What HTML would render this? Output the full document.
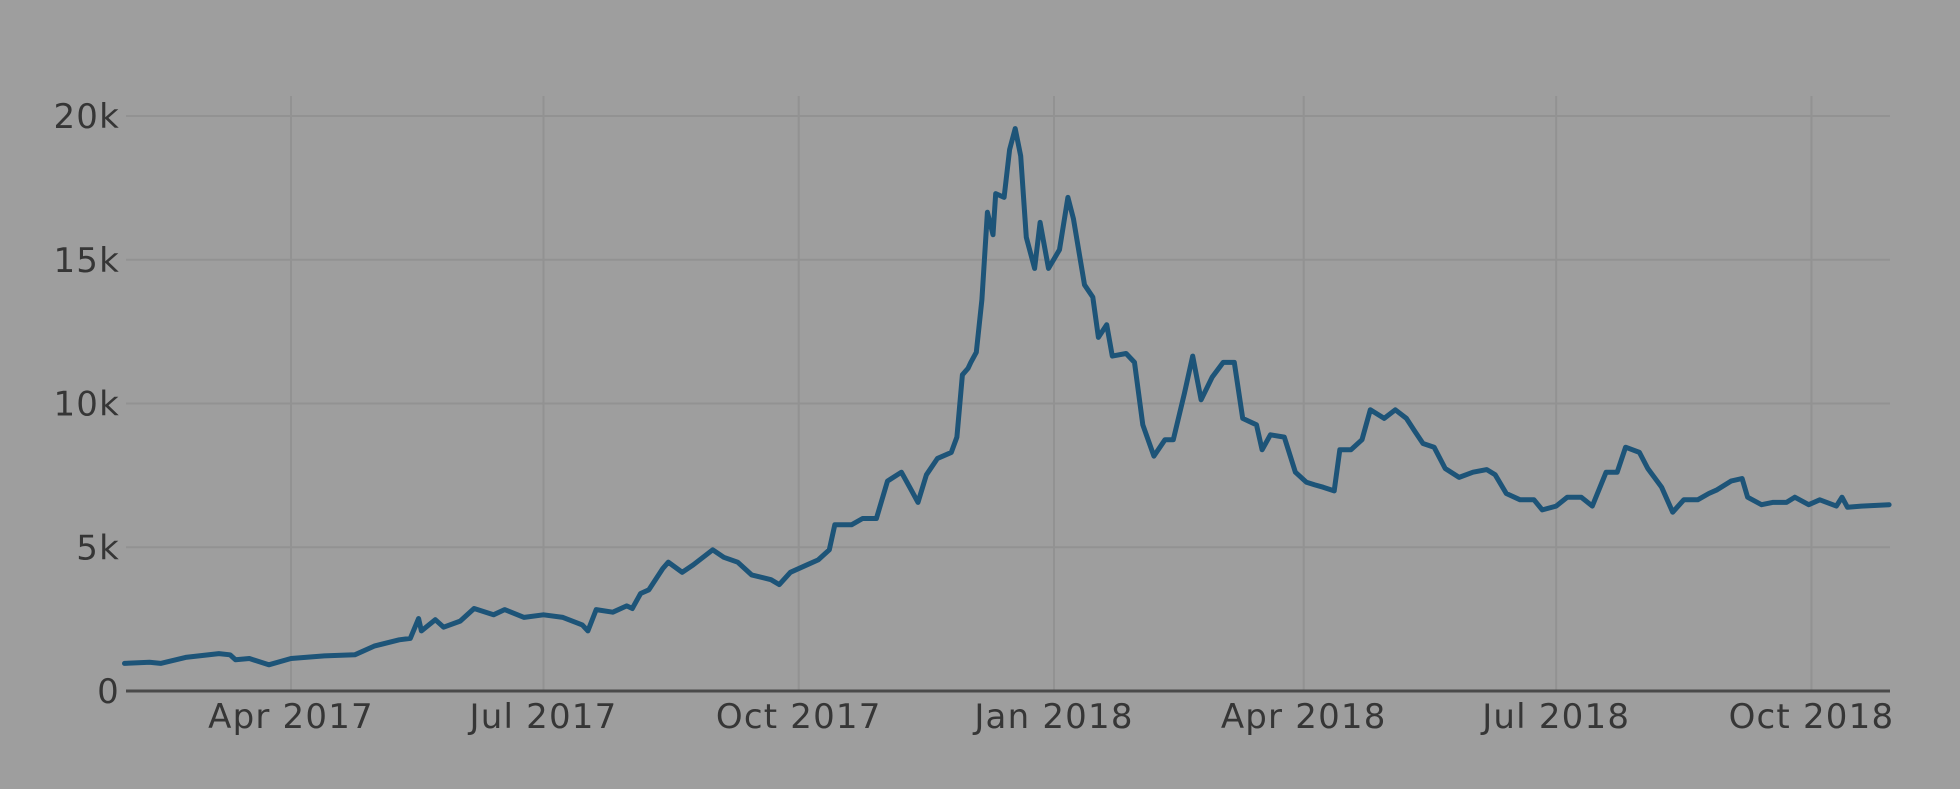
<!DOCTYPE html>
<html><head><meta charset="utf-8">
<style>
html,body{margin:0;padding:0;background:#9e9e9e;}
svg{display:block;}
text{font-family:"DejaVu Sans","Liberation Sans",sans-serif;fill:#363636;font-size:34px;letter-spacing:1.2px;}
</style></head>
<body>
<svg id="chart" width="1960" height="789" viewBox="0 0 1960 789" xmlns="http://www.w3.org/2000/svg">
<rect width="1960" height="789" fill="#9e9e9e"/>
<g id="grid"></g><g id="axes"></g><g id="series"></g>
</svg>
<script>
const dates = ["2017-01-31","2017-02-09","2017-02-13","2017-02-22","2017-03-06","2017-03-10","2017-03-12","2017-03-17","2017-03-24","2017-04-01","2017-04-13","2017-04-24","2017-05-01","2017-05-10","2017-05-14","2017-05-17","2017-05-18","2017-05-23","2017-05-26","2017-06-01","2017-06-06","2017-06-13","2017-06-17","2017-06-24","2017-07-01","2017-07-08","2017-07-15","2017-07-17","2017-07-20","2017-07-26","2017-07-31","2017-08-02","2017-08-05","2017-08-08","2017-08-13","2017-08-15","2017-08-20","2017-08-24","2017-08-31","2017-09-04","2017-09-09","2017-09-14","2017-09-21","2017-09-24","2017-09-28","2017-10-04","2017-10-08","2017-10-12","2017-10-14","2017-10-20","2017-10-24","2017-10-29","2017-11-02","2017-11-07","2017-11-10","2017-11-13","2017-11-16","2017-11-20","2017-11-25","2017-11-27","2017-11-29","2017-12-01","2017-12-02","2017-12-04","2017-12-06","2017-12-08","2017-12-10","2017-12-11","2017-12-14","2017-12-16","2017-12-18","2017-12-20","2017-12-22","2017-12-25","2017-12-27","2017-12-30","2018-01-03","2018-01-06","2018-01-08","2018-01-12","2018-01-15","2018-01-17","2018-01-20","2018-01-22","2018-01-27","2018-01-30","2018-02-02","2018-02-06","2018-02-10","2018-02-13","2018-02-17","2018-02-20","2018-02-23","2018-02-27","2018-03-03","2018-03-07","2018-03-10","2018-03-15","2018-03-17","2018-03-20","2018-03-25","2018-03-29","2018-04-02","2018-04-05","2018-04-08","2018-04-12","2018-04-14","2018-04-18","2018-04-22","2018-04-25","2018-04-30","2018-05-04","2018-05-08","2018-05-11","2018-05-14","2018-05-18","2018-05-22","2018-05-27","2018-06-01","2018-06-06","2018-06-09","2018-06-13","2018-06-18","2018-06-23","2018-06-26","2018-07-01","2018-07-05","2018-07-10","2018-07-14","2018-07-19","2018-07-23","2018-07-26","2018-07-31","2018-08-03","2018-08-08","2018-08-12","2018-08-16","2018-08-21","2018-08-25","2018-08-28","2018-09-02","2018-09-06","2018-09-08","2018-09-13","2018-09-17","2018-09-22","2018-09-25","2018-09-30","2018-10-04","2018-10-10","2018-10-12","2018-10-14","2018-10-19","2018-10-29"];
const prices = [960,1000,960,1170,1300,1260,1090,1130,910,1130,1220,1260,1560,1780,1830,2520,2090,2480,2220,2430,2870,2650,2830,2560,2650,2560,2300,2090,2830,2740,2960,2870,3390,3520,4260,4480,4130,4390,4910,4650,4480,4040,3870,3700,4130,4390,4560,4910,5780,5780,6000,6000,7300,7610,7090,6560,7520,8090,8300,8830,11000,11220,11430,11780,13610,16650,15870,17300,17170,18830,19560,18610,15780,14700,16300,14700,15350,17170,16430,14130,13700,12300,12740,11650,11740,11430,9260,8170,8740,8740,10350,11650,10130,10910,11430,11430,9480,9260,8390,8910,8830,7610,7260,7170,7090,6960,8390,8390,8740,9780,9480,9780,9480,9040,8610,8480,7740,7430,7610,7700,7520,6870,6650,6650,6300,6430,6740,6740,6430,7610,7610,8480,8300,7740,7090,6220,6650,6650,6870,7000,7300,7390,6740,6480,6560,6560,6740,6480,6650,6430,6740,6390,6430,6480];
const yTicks = [0,5000,10000,15000,20000];
const yTickLabels = ["0","5k","10k","15k","20k"];
const xTicks = ["2017-04-01","2017-07-01","2017-10-01","2018-01-01","2018-04-01","2018-07-01","2018-10-01"];
const xTickLabels = ["Apr 2017","Jul 2017","Oct 2017","Jan 2018","Apr 2018","Jul 2018","Oct 2018"];

const NS="http://www.w3.org/2000/svg";
const L=126,R=1890,T=116,B=691;
const d0=Date.parse("2017-04-01"), d1=Date.parse("2018-01-01");
const pxPerMs=(1054-291)/(d1-d0);
function xs(s){return 291+(Date.parse(s)-d0)*pxPerMs;}
function ys(v){return B-(v/20000)*(B-T);}
function mk(tag,attrs,parent){const e=document.createElementNS(NS,tag);for(const k in attrs)e.setAttribute(k,attrs[k]);parent.appendChild(e);return e;}
const grid=document.getElementById('grid'),axes=document.getElementById('axes'),series=document.getElementById('series');
yTicks.forEach((v,i)=>{
  if(v>0){const g=mk('line',{x1:L,x2:R,y1:ys(v),y2:ys(v),stroke:'#929292','stroke-width':2},grid);
  
  }
  const t=mk('text',{x:120,y:ys(v)+12,'text-anchor':'end'},axes);t.textContent=yTickLabels[i];
  
  
});
xTicks.forEach((s,i)=>{
  const x=xs(s);
  const g=mk('line',{x1:x,x2:x,y1:96,y2:B,stroke:'#929292','stroke-width':2},grid);
  
  
  const t=mk('text',{x:x,y:728,'text-anchor':'middle'},axes);t.textContent=xTickLabels[i];
  
  
});
const ax=mk('line',{x1:L,x2:R,y1:B,y2:B,stroke:'#4a4a4a','stroke-width':3},axes);


const pts=dates.map((s,i)=>xs(s).toFixed(1)+','+ys(prices[i]).toFixed(1)).join(' ');
const pl=mk('polyline',{points:pts,fill:'none',stroke:'#1d5478','stroke-width':5,'stroke-linejoin':'round','stroke-linecap':'round'},series);


</script>
</body></html>
